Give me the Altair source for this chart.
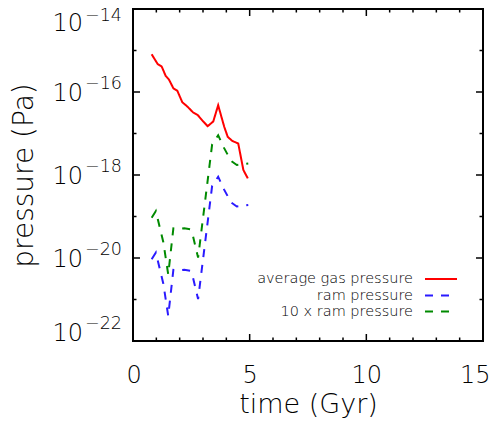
import altair as alt
import pandas as pd

# ---------------- data ----------------
time_gas = [0.80, 1.06, 1.23, 1.40, 1.54, 1.73, 1.90, 2.11, 2.34, 2.58, 2.77,
            3.01, 3.20, 3.44, 3.65, 3.91, 4.06, 4.26, 4.51, 4.73, 4.92]
gas_pressure = [8.1e-16, 4.7e-16, 4.1e-16, 2.45e-16, 2.0e-16, 1.23e-16, 1.07e-16,
                5.7e-17, 4.4e-17, 3.2e-17, 2.8e-17, 1.95e-17, 1.5e-17, 1.95e-17,
                4.8e-17, 1.45e-17, 8.3e-18, 6.6e-18, 5.75e-18, 1.32e-18, 8.3e-19]

time_ram = [0.80, 0.98, 1.30, 1.51, 1.73, 1.94, 2.20, 2.45, 2.57, 2.79,
            3.39, 3.65, 3.90, 4.20, 4.45, 4.70, 4.94]
ram_pressure = [9.3e-21, 1.35e-20, 2.4e-21, 4.0e-22, 5.2e-21, 5.0e-21, 5.2e-21,
                4.9e-21, 3.4e-21, 1.02e-21, 5.4e-19, 9.1e-19, 4.5e-19, 2.2e-19,
                1.74e-19, 1.82e-19, 1.9e-19]
ten_ram_pressure = [9.3e-20, 1.35e-19, 2.4e-20, 4.0e-21, 5.2e-20, 5.0e-20, 5.2e-20,
                    4.9e-20, 3.4e-20, 1.02e-20, 5.4e-18, 9.1e-18, 4.5e-18, 2.2e-18,
                    1.74e-18, 1.82e-18, 1.9e-18]

series_names = ["average gas pressure", "ram pressure", "10 x ram pressure"]
series_colors = ["#ff0000", "#2a1aff", "#008a00"]
series_dash = [[1, 0], [8, 8], [8, 8]]

x_major = [0, 5, 10, 15]
x_minor = [1, 2, 3, 4, 6, 7, 8, 9, 11, 12, 13, 14]
y_major = [1e-14, 1e-16, 1e-18, 1e-20, 1e-22]
y_minor = [1e-15, 1e-17, 1e-19, 1e-21]
y_label_base = ["10", "10", "10", "10", "10"]
y_label_sup = ["\u221214", "\u221216", "\u221218", "\u221220", "\u221222"]

# ---------------- layout ----------------
W, H = 350, 332
X_DOM = [0, 15]
Y_DOM = [1e-22, 1e-14]
FONT = "DejaVu Sans"
FW = 300
TICK_MAJ, TICK_MIN = 7, 3.5   # tick lengths in pixels

rows = []
for t, p in zip(time_gas, gas_pressure):
    rows.append({"time": t, "pressure": p, "series": series_names[0]})
for t, p in zip(time_ram, ram_pressure):
    rows.append({"time": t, "pressure": p, "series": series_names[1]})
for t, p in zip(time_ram, ten_ram_pressure):
    rows.append({"time": t, "pressure": p, "series": series_names[2]})
df = pd.DataFrame(rows)

xs = alt.Scale(domain=X_DOM, nice=False, zero=False)
ys = alt.Scale(type="log", domain=Y_DOM, nice=False)

x_axis = alt.Axis(
    values=x_major, format="d", labelFontSize=24, labelFont=FONT,
    labelFontWeight=FW,
    labelColor="black", labelPadding=22, ticks=False, domain=False,
    grid=False, labelFlush=True, labelFlushOffset=7, title="time (Gyr)",
    titleFont=FONT, titleFontSize=27, titleFontWeight=FW,
    titleColor="black", titleY=71, titleBaseline="alphabetic")
y_axis = alt.Axis(
    labels=False, ticks=False, domain=False, grid=False,
    title="pressure (Pa)", titleFont=FONT, titleFontSize=28,
    titleFontWeight=FW, titleColor="black", titleAngle=270,
    titleX=-101, titleY=H / 2, titleAlign="center",
    titleBaseline="alphabetic")

X = alt.X("time:Q", scale=xs, axis=x_axis, title="time (Gyr)")
Y = alt.Y("pressure:Q", scale=ys, axis=y_axis, title="pressure (Pa)")

lines = alt.Chart(df).mark_line(strokeWidth=2, clip=True).encode(
    x=X, y=Y,
    color=alt.Color("series:N", scale=alt.Scale(domain=series_names,
                    range=series_colors), legend=None),
    strokeDash=alt.StrokeDash("series:N", scale=alt.Scale(domain=series_names,
                              range=series_dash), legend=None),
)

# inward tick marks of the box frame, as short two-point segments
x_per_px = (X_DOM[1] - X_DOM[0]) / W
dec_per_px = 8 / H
tick_rows = []
k = 0
for vals, length in [(x_major, TICK_MAJ), (x_minor, TICK_MIN)]:
    f = 10 ** (length * dec_per_px)
    for v in vals:
        for a, b in [(Y_DOM[0], Y_DOM[0] * f), (Y_DOM[1], Y_DOM[1] / f)]:
            tick_rows += [{"id": k, "time": v, "pressure": a},
                          {"id": k, "time": v, "pressure": b}]
            k += 1
for vals, length in [(y_major, TICK_MAJ), (y_minor, TICK_MIN)]:
    dx = length * x_per_px
    for v in vals:
        for a, b in [(X_DOM[0], X_DOM[0] + dx), (X_DOM[1], X_DOM[1] - dx)]:
            tick_rows += [{"id": k, "time": a, "pressure": v},
                          {"id": k, "time": b, "pressure": v}]
            k += 1
ticks = alt.Chart(pd.DataFrame(tick_rows)).mark_line(
    color="black", strokeWidth=1.5).encode(x=X, y=Y, detail="id:N")

layers = [ticks]

# y tick labels: "10" with superscript exponent
lab = pd.DataFrame({"pressure": y_major, "base": y_label_base, "sup": y_label_sup})
groups = [(lab.iloc[[0]], 22, 12), (lab.iloc[1:4], 9, -3.5), (lab.iloc[[4]], 0, -12)]
for sub, dy_base, dy_sup in groups:
    layers.append(alt.Chart(sub).mark_text(
        align="right", baseline="alphabetic", fontSize=24, font=FONT,
        fontWeight=FW, color="black", dy=dy_base).encode(
        y=Y, x=alt.value(-50), text="base:N"))
    layers.append(alt.Chart(sub).mark_text(
        align="right", baseline="alphabetic", fontSize=17.5, font=FONT,
        fontWeight=FW, color="black", dy=dy_sup).encode(
        y=Y, x=alt.value(-11), text="sup:N"))

# legend
leg_y = [270, 286.5, 302.5]
for name, col, dash, yy in zip(series_names, series_colors, series_dash, leg_y):
    d = pd.DataFrame({"label": [name]})
    layers.append(alt.Chart(d).mark_text(
        align="right", baseline="alphabetic", fontSize=14.5, font=FONT,
        fontWeight=FW, color="black").encode(
        x=alt.value(280), y=alt.value(yy + 4.3), text="label:N"))
    layers.append(alt.Chart(d).mark_rule(
        color=col, strokeWidth=2, strokeDash=dash).encode(
        x=alt.value(292), x2=alt.value(324), y=alt.value(yy)))

chart = alt.layer(lines, *layers).properties(
    width=W, height=H,
    autosize=alt.AutoSizeParams(type="none"),
    padding={"left": 125, "top": 1, "right": 8, "bottom": 78},
).configure_view(stroke="black", strokeWidth=2)

chart.save("out.html", embed_options={"renderer": "svg", "actions": False})
